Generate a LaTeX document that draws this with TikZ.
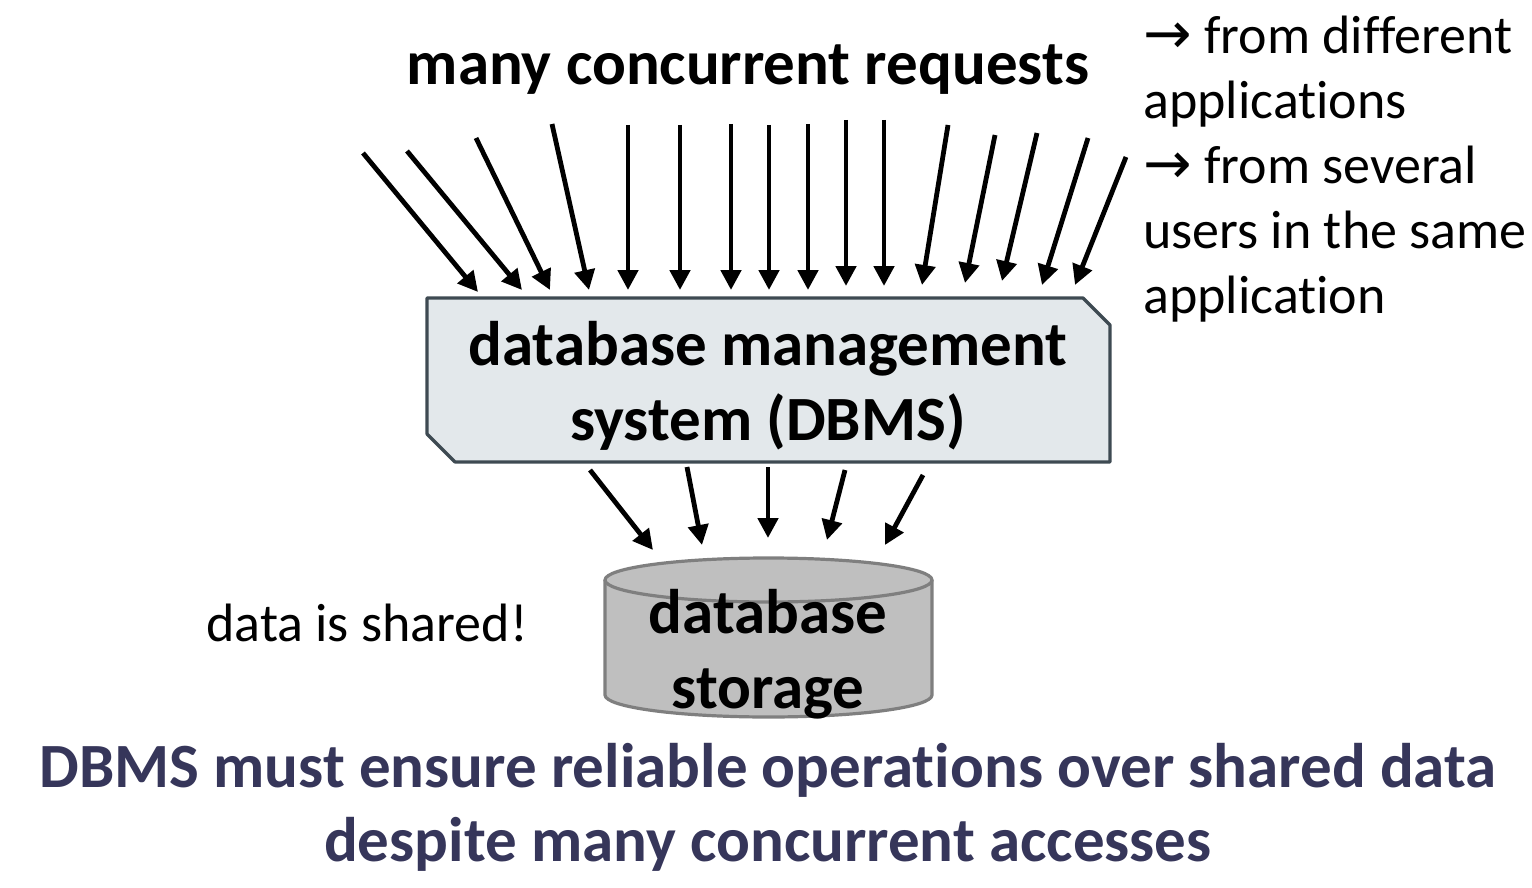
\documentclass[tikz,border=0pt]{standalone}
\usepackage{fontspec}
\setmainfont{Carlito}[Ligatures={NoCommon}]
\newfontfamily\arrowfont{DejaVu Sans}
\usetikzlibrary{arrows.meta}
\definecolor{boxfill}{HTML}{E3E8EB}
\definecolor{boxline}{HTML}{3E4A52}
\definecolor{cylfill}{HTML}{BFBFBF}
\definecolor{cylline}{HTML}{7F7F7F}
\definecolor{navy}{HTML}{36365A}
\tikzset{
  req/.style={line width=2.4pt,-{Triangle[length=10pt,width=10pt]}},
  bigtxt/.style={font=\bfseries\fontsize{31.5}{37.5}\selectfont,align=center,inner sep=0pt},
  sidetxt/.style={font=\fontsize{27}{32.5}\selectfont,align=left,inner sep=0pt,anchor=north west},
}
\newcommand{\myarr}{{\arrowfont\fontsize{29}{32.5}\selectfont →}}
\begin{document}
\begin{tikzpicture}[x=0.5pt,y=-0.5pt]
\useasboundingbox (0,0) rectangle (1532,888);
% title
\node[font=\bfseries\fontsize{31.5}{37}\selectfont,inner sep=0pt] (title) at (748,70) {many concurrent requests};
% side note
\node[sidetxt] (side) at (1143,16) {\myarr\ from different\\applications\\\myarr\ from several\\users in the same\\application};
% request arrows
\foreach \i/\sx/\sy/\ex/\ey in {1/363/153/478/292,2/407/151/522/290,3/476/138/550/290,4/552/124/589/290,5/628/125/628/290,6/680/125/680/290,7/731/124/731/290,8/769/125/769/290,9/808/124/808/290,10/846/120/846/286,11/884/120/884/286,12/948/125/922/285,13/995/135/965/283,14/1037/133/1002/281,15/1088/138/1042/285,16/1126/157/1075/285}{
  \coordinate (s\i) at (\sx,\sy);
  \coordinate (e\i) at (\ex,\ey);
  \draw[req] (s\i) -- (e\i);
}
% DBMS box
\draw[fill=boxfill,draw=boxline,line width=1.6pt,line join=round] (427,298) -- (1083,298) -- (1110,325) -- (1110,462) -- (455,462) -- (427,434) -- cycle;
\node[bigtxt] (dbms) at (768,386) {database management\\system (DBMS)};
% storage arrows
\foreach \i/\sx/\sy/\ex/\ey in {1/590/470/653/550,2/687/467/702/545,3/768/467/768/538,4/845/470/827/540,5/923/475/885/545}{
  \coordinate (t\i) at (\sx,\sy);
  \coordinate (u\i) at (\ex,\ey);
  \draw[req] (t\i) -- (u\i);
}
% cylinder
\fill[cylfill] (605,580) -- (605,695) arc[start angle=180,end angle=0,x radius=163.5,y radius=22] -- (932,580) arc[start angle=0,end angle=-180,x radius=163.5,y radius=22] -- cycle;
\draw[cylline,line width=1.6pt] (605,580) -- (605,695) arc[start angle=180,end angle=0,x radius=163.5,y radius=22] -- (932,580);
\draw[cylline,line width=1.6pt] (768.5,580) ellipse[x radius=163.5,y radius=22];
\node[bigtxt] (store) at (768,654) {database\\storage};
% shared
\node[font=\fontsize{27}{30}\selectfont,inner sep=0pt] (shared) at (367,623) {data is shared!};
% bottom
\node[font=\bfseries\fontsize{31.5}{37}\selectfont,align=center,inner sep=0pt,text=navy] (concl) at (768,807) {DBMS must ensure reliable operations over shared data\\despite many concurrent accesses};
\end{tikzpicture}
\end{document}
